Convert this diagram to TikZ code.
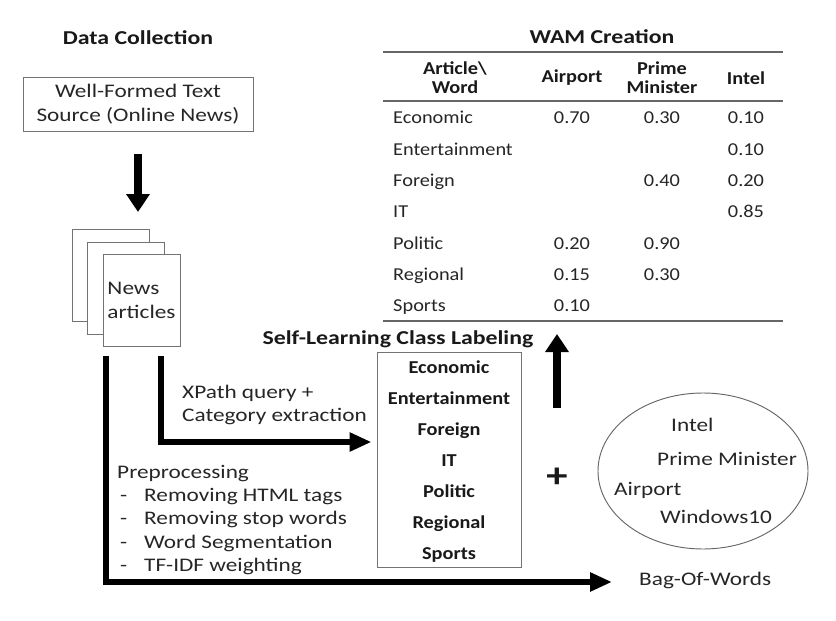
\documentclass[tikz,border=0pt]{standalone}
\usepackage{fontspec}
\setmainfont{Carlito}
\newfontfamily\widefont{Carlito}[FakeStretch=1.21]
\newfontfamily\tblfont{Carlito}[FakeStretch=1.12]
\usetikzlibrary{arrows.meta,shapes.geometric}

\newcommand\prestep[1]{\makebox[0.81cm][l]{\hspace{0.09cm}-}#1}

\tikzset{
  txt/.style={font=\widefont\fontsize{16.4}{20}\selectfont,inner sep=0pt,text=black!85},
  btxt/.style={font=\widefont\fontsize{16.8}{20}\selectfont\bfseries,inner sep=0pt,text=black!90},
  tbl/.style={font=\tblfont\fontsize{15.5}{19}\selectfont,inner sep=0pt,text=black!85},
  tblb/.style={font=\tblfont\fontsize{15.5}{19}\selectfont\bfseries,inner sep=0pt,text=black!90},
  hdr/.style={font=\tblfont\fontsize{15.5}{16.3}\selectfont\bfseries,inner sep=0pt,align=center,text=black!90},
  box/.style={draw=black!55,line width=0.8pt,txt,align=center},
  page/.style={draw=black!55,line width=0.8pt,fill=white,minimum width=2.31cm,minimum height=2.76cm},
  bigarrow/.style={line width=0.24cm,-{Triangle[length=0.54cm,width=0.68cm]}},
  elbow/.style={line width=0.18cm,-{Triangle[length=0.66cm,width=0.54cm]}},
  rule/.style={draw=black!60,line width=1.3pt},
}

\begin{document}
\begin{tikzpicture}[x=0.03cm,y=-0.03cm]
\useasboundingbox (0,0) rectangle (836,621);

% data collection
\node[btxt,anchor=base] (dc) at (138,45) {Data Collection};
\node[box,minimum width=6.9cm,minimum height=1.62cm] (src) at (138,104) {Well-Formed Text\\Source (Online News)};
\node[page] (pg1) at (110.5,275.5) {};
\node[page] (pg2) at (126,288) {};
\node[page,txt,align=left] (pg3) at (141.5,300.5) {News\\articles};
\draw[bigarrow,shorten <=0.69cm,shorten >=0.51cm] (src.south) -- (src.south |- pg1.north);

% self-learning class labeling
\node[btxt,anchor=base] (sll) at (398,344) {Self-Learning Class Labeling};
\node[draw=black!55,line width=0.8pt,minimum width=4.32cm,minimum height=6.45cm] (lbl) at (449,459.5) {};
\foreach \cls [count=\i from 0] in {Economic,Entertainment,Foreign,IT,Politic,Regional,Sports}
  \node[tblb,anchor=base] (cls\i) at (449,373+31*\i) {\cls};

% connectors from the articles
\draw[elbow,shorten >=0.15cm] ([xshift=0.585cm,yshift=-0.27cm]pg3.south) |- ([yshift=0.525cm]lbl.west);
\node[txt,align=left,anchor=west] (xp) at (182,405) {XPath query +\\Category extraction};
\node[txt,align=left,anchor=west] (pre) at (117,520) {Preprocessing\\\prestep{Removing HTML tags}\\\prestep{Removing stop words}\\\prestep{Word Segmentation}\\\prestep{TF-IDF weighting}};
\node[txt,anchor=base west] (bow) at (639,585) {Bag-Of-Words};
\draw[elbow] ([xshift=0.09cm,yshift=-0.27cm]pg3.south west) |- ([xshift=-0.81cm,yshift=-0.06cm]bow.west);

% WAM table
\node[btxt,anchor=base] (wam) at (602,44) {WAM Creation};
\draw[rule] (383,52) -- (783,52);
\draw[rule] (383,101) -- (783,101);
\draw[rule] (383,321) -- (783,321);
\coordinate (tblbot) at (557,321);
\node[hdr] (h0) at (455,77.5) {Article\textbackslash\\Word};
\node[hdr] (h1) at (572,78) {Airport};
\node[hdr] (h2) at (662,77.5) {Prime\\Minister};
\node[hdr] (h3) at (746,78) {Intel};
\foreach \cls/\va/\vb/\vc [count=\i from 0] in {Economic/0.70/0.30/0.10,Entertainment/{}/{}/0.10,Foreign/{}/0.40/0.20,IT/{}/{}/0.85,Politic/0.20/0.90/{},Regional/0.15/0.30/{},Sports/0.10/{}/{}}{
  \node[tbl,anchor=base west] (row\i) at (393,124+31.3*\i) {\cls};
  \node[tbl,anchor=base] (row\i-a) at (572,124+31.3*\i) {\va};
  \node[tbl,anchor=base] (row\i-b) at (662,124+31.3*\i) {\vb};
  \node[tbl,anchor=base] (row\i-c) at (746,124+31.3*\i) {\vc};
}

% up arrow and bag of words
\coordinate (upfoot) at (557,408);
\draw[bigarrow,shorten >=0.39cm] (upfoot) -- (upfoot |- tblbot);
\node[btxt,font=\widefont\fontsize{30}{30}\selectfont\bfseries] (plus) at (557,478) {+};
\node[draw=black!60,line width=0.8pt,ellipse,minimum width=6.3cm,minimum height=4.68cm,inner sep=0pt] (bag) at (703,471) {};
\node[txt,anchor=base west] (w1) at (671,431) {Intel};
\node[txt,anchor=base west] (w2) at (657,465) {Prime Minister};
\node[txt,anchor=base west] (w3) at (614,495) {Airport};
\node[txt,anchor=base west] (w4) at (660,523) {Windows10};
\end{tikzpicture}
\end{document}
